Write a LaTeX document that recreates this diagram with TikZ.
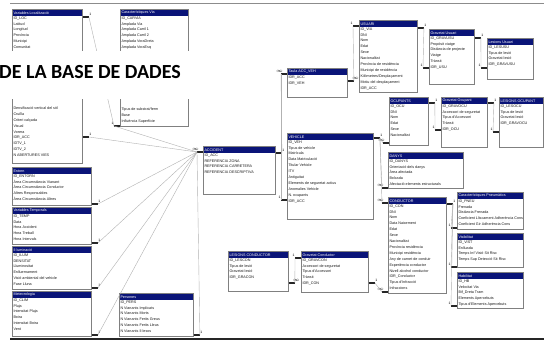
\documentclass[tikz,border=0pt]{standalone}
\usepackage{fontspec}
\newfontfamily\taulafont{Liberation Sans}
\newfontfamily\titolfont{Carlito}
\usetikzlibrary{calc}

\definecolor{capblau}{RGB}{10,20,120}

% taula: nom, x, y, amplada, alcada, titol, camps
\newcommand{\taula}[7]{%
  \node[taula, minimum width=#4pt, minimum height=#5pt] (#1) at (#2,#3) {};
  \fill[capblau] ([xshift=1pt,yshift=-1pt]#1.north west) rectangle ([xshift=-1pt,yshift=-6.6pt]#1.north east);
  \node[capcal] (#1-cap) at ([xshift=1.3pt,yshift=-3.8pt]#1.north west) {#6};
  \node[camps] (#1-camps) at ([xshift=1.3pt,yshift=-7.4pt]#1.north west) {#7};
}
% potes de relacio a la dreta i a l'esquerra
\newcommand{\potad}[4]{%
  \draw[pota] (#1.east |- 0,#2) -- ++(6,0) coordinate (#3);
  \node[card] (#3-n) at ([xshift=1.5pt,yshift=2.6pt]#3) {#4};
}
\newcommand{\potae}[4]{%
  \draw[pota] (#1.west |- 0,#2) -- ++(-6,0) coordinate (#3);
  \node[card] (#3-n) at ([xshift=-1.5pt,yshift=2.6pt]#3) {#4};
}

\begin{document}
\begin{tikzpicture}[x=1pt, y=-1pt,
  taula/.style={draw=black!50, line width=0.9pt, fill=white, anchor=north west, inner sep=0pt},
  capcal/.style={anchor=west, inner sep=0pt, text=white, font=\taulafont\fontsize{3.7}{4}\selectfont},
  camps/.style={anchor=north west, inner sep=0pt, align=left, text=black!90,
    font=\taulafont\fontsize{3.7}{5.9}\selectfont},
  pota/.style={line width=1.3pt, black!85},
  card/.style={inner sep=0pt, font=\taulafont\fontsize{3.4}{4}\selectfont},
  rel/.style={draw=black!30, line width=0.4pt}]

  \useasboundingbox (0,0) rectangle (544,342);
  \fill[white] (0,0) rectangle (544,342);

  % marc
  \draw[black!45, line width=0.8pt] (10,3) -- (544,3);
  \draw[black!85, line width=1.6pt] (10,339) -- (544,339);

  % columna esquerra
  \taula{loc}{12}{9}{70}{154}{Variables Localització}{ID\_LOC\\Latitud\\Longitud\\Província\\Municipi\\Comunitat}
  \node[camps] (loc-baix) at (13.3,106.5) {Densificació vertical del sòl\\Cruïlla\\Criteri calçada\\Visual\\Vorera\\IDR\_ACC\\IDTV\_1\\IDTV\_2\\N ABERTURES VIES};
  \taula{carvia}{120}{9}{68}{117}{Característiques Via}{ID\_CARVIA\\Amplada Via\\Amplada Carril 1\\Amplada Carril 2\\Amplada VoraDreta\\Amplada VoraEsq}
  \node[camps] (carvia-baix) at (121.3,107.5) {Tipus de substrat/ferm\\Base\\Influència Superfície};
  \taula{entorn}{12}{167}{79}{38}{Entorn}{ID\_ENTORN\\Àrea Circumstància Vianant\\Àrea Circumstància Conductor\\Altres Responsables\\Àrea Circumstància Altres}
  \taula{temps}{12}{207}{79}{37}{Variables Temporals}{ID\_TEMP\\Data\\Hora Accident\\Hora Treball\\Hora Intervals}
  \taula{llum}{12}{246}{79}{43}{Il·luminació}{ID\_ILUM\\DENSITAT\\Lluminositat\\Enlluernament\\Visió ambiental del vehicle\\Fase Lluna}
  \taula{meteo}{12}{291}{79}{45}{Meteorologia}{ID\_CLIM\\Pluja\\Intensitat Pluja\\Boira\\Intensitat Boira\\Vent}
  \taula{pers}{119}{293}{74}{43}{Persones}{ID\_PERS\\N Vianants Implicats\\N Vianants Morts\\N Vianants Ferits Greus\\N Vianants Ferits Lleus\\N Vianants Il·lesos}

  % centre
  \taula{acc}{203}{146}{72}{48}{ACCIDENT}{ID\_ACC\\REFERENCIA ZONA\\REFERENCIA CARRETERA\\REFERENCIA DESCRIPTIVA}
  \taula{accveh}{287}{68}{60}{29}{Taula ACC\_VEH}{IDR\_ACC\\IDR\_VEH}
  \taula{veh}{287}{133}{86}{86}{VEHICLE}{ID\_VEH\\Tipus de vehicle\\Matrícula\\Data Matriculació\\Titular Vehicle\\ITV\\Antiguitat\\Elements de seguretat actius\\Anomalies Vehicle\\N. ocupants\\IDR\_ACC}
  \taula{aten}{228}{251}{60}{40}{LESIONS CONDUCTOR}{ID\_LESCON\\Tipus de lesió\\Gravetat lesió\\IDR\_GRACON}
  \taula{gravcon}{301}{251}{67}{41}{Gravetat Conductor}{ID\_GRAVCON\\Accessori de seguretat\\Tipus d'Accessori\\Trànsit\\IDR\_CON}

  % columna dreta
  \taula{usu}{359}{20}{58}{72}{USUARI}{ID\_VIA\\DNI\\Nom\\Edat\\Sexe\\Nacionalitat\\Província de residència\\Municipi de residència\\Kilòmetres/Desplaçament\\Motiu del desplaçament\\IDR\_ACC}
  \taula{gravusu}{429}{29}{45}{55}{Gravetat Usuari}{ID\_GRAVUSU\\Propòsit viatge\\Distància de projecte\\Viatge\\Trànsit\\IDR\_USU}
  \taula{lesusu}{487}{38}{46}{41}{Lesions Usuari}{ID\_LESUSU\\Tipus de lesió\\Gravetat lesió\\IDR\_GRAVUSU}
  \taula{ocu}{389}{97}{39}{48}{OCUPANTS}{ID\_OCU\\DNI\\Nom\\Edat\\Sexe\\Nacionalitat}
  \taula{gravocu}{441}{97}{46}{50}{Gravetat Ocupant}{ID\_GRAVOCU\\Accessori de seguretat\\Tipus d'Accessori\\Trànsit\\IDR\_OCU}
  \taula{lesocu}{499}{97}{44}{50}{LESIONS OCUPANT}{ID\_LESOCU\\Tipus de lesió\\Gravetat lesió\\IDR\_GRAVOCU}
  \taula{danys}{388}{152}{75}{36}{DANYS}{ID\_DANYS\\Orientació dels danys\\Àrea afectada\\Bolcada\\Afectació elements estructurals}
  \taula{cond}{388}{197}{58}{96}{CONDUCTOR}{ID\_CON\\DNI\\Nom\\Data Naixement\\Edat\\Sexe\\Nacionalitat\\Província residència\\Municipi residència\\Any de carnet de conduir\\Experiència conductor\\Nivell alcohol conductor\\IDR\_Conductor\\Tipus d'Infracció\\Infraccions}
  \taula{pneu}{457}{192}{66}{37}{Característiques Pneumàtics}{ID\_PNEU\\Frenada\\Distància Frenada\\Coeficient Lliscament Adherència Cons\\Coeficient Gir Adherència Cons}
  \taula{visib}{457}{233}{66}{34}{Visibilitat}{ID\_VIST\\Enlluada\\Temps Inf Visió Sit Risc\\Temps Sup Detecció Sit Risc}
  \taula{habil}{457}{272}{66}{36}{Habilitat}{ID\_HB\\Velocitat Via\\Bif\_Dreta Tram\\Elements Apercebuts\\Tipus d'Elements Apercebuts}

  % relacions cap a ACCIDENT
  \potae{acc}{152}{a0}{$\infty$}
  \potae{carvia}{126}{cv0}{1}
  \potad{loc}{17}{l0}{1}
  \potad{loc}{137}{l1}{1}
  \potad{entorn}{204}{e0}{1}
  \potad{temps}{243}{t0}{1}
  \potad{llum}{288}{i0}{1}
  \potad{meteo}{335}{m0}{1}
  \potad{pers}{335}{p0}{1}
  \draw[rel] (l0) -- (cv0);
  \draw[rel] (cv0) -- (a0);
  \draw[rel] (l1) -- (a0);
  \draw[rel] (e0) -- (a0);
  \draw[rel] (t0) -- (a0);
  \draw[rel] (i0) -- (a0);
  \draw[rel] (m0) -- (a0);
  \draw[rel] (p0) -- (a0);

  % ACCIDENT - VEHICLE - USUARI
  \potad{acc}{153}{a1}{1}
  \potae{accveh}{74}{av0}{$\infty$}
  \potad{accveh}{81}{av1}{$\infty$}
  \potae{veh}{200}{v0}{1}
  \potae{usu}{26}{u0}{1}
  \draw[rel] (a1) -- (av0);
  \draw[rel] (v0) -- (av0);
  \draw[rel] (av1) -- (u0);

  \potad{usu}{28}{u1}{1}
  \potae{gravusu}{68}{gu0}{1}
  \potad{gravusu}{38}{gu1}{1}
  \potae{lesusu}{68}{lu0}{1}
  \draw[rel] (u1) -- (gu0);
  \draw[rel] (gu1) -- (lu0);

  % VEHICLE - ocupants, danys, conductor
  \potad{veh}{138}{v1}{1}
  \potae{ocu}{143}{o0}{$\infty$}
  \potae{danys}{188}{d0}{$\infty$}
  \potae{cond}{203}{c0}{$\infty$}
  \draw[rel] (v1) -- (o0);
  \draw[rel] (v1) -- (d0);
  \draw[rel] (v1) -- (c0);

  \potad{ocu}{103}{o1}{1}
  \potae{gravocu}{130}{go0}{1}
  \potad{gravocu}{103}{go1}{1}
  \potae{lesocu}{132}{lo0}{1}
  \draw[rel] (o1) -- (go0);
  \draw[rel] (go1) -- (lo0);

  % CONDUCTOR
  \potad{cond}{204}{c1}{1}
  \potae{pneu}{228}{pn0}{1}
  \potae{visib}{267}{vi0}{1}
  \potae{habil}{306}{hb0}{1}
  \draw[rel] (c1) -- (pn0);
  \draw[rel] (c1) -- (vi0);
  \draw[rel] (c1) -- (hb0);

  \potad{aten}{283}{at0}{$\infty$}
  \potae{gravcon}{258}{gc0}{1}
  \potad{gravcon}{283}{gc1}{1}
  \potae{cond}{292}{c2}{$\infty$}
  \draw[rel] (at0) -- (gc0);
  \draw[rel] (gc1) -- (c2);

  % titol
  \fill[white] (0,51) rectangle (196,99);
  \node[anchor=west, inner sep=0pt, font=\titolfont\bfseries\fontsize{20}{22}\selectfont] (titol) at (-1,72) {DE LA BASE DE DADES};
\end{tikzpicture}
\end{document}
